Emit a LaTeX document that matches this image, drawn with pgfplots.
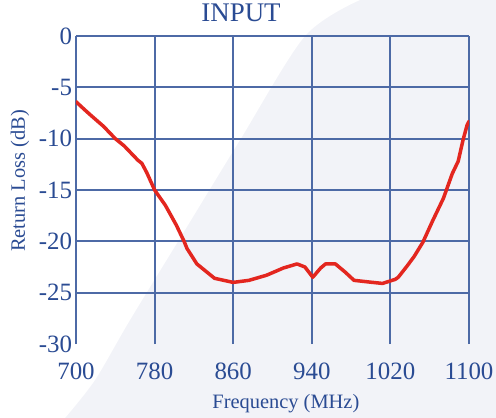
\documentclass[border=0pt]{standalone}
\usepackage{fontspec}
\setmainfont{Liberation Serif}
\usepackage{pgfplots}
\pgfplotsset{compat=1.18}

\definecolor{txtblue}{HTML}{2A4B93}
\definecolor{gridblue}{HTML}{4D6AA6}
\definecolor{curvered}{HTML}{E3261F}
\definecolor{bggrey}{HTML}{F2F3F8}

\begin{document}
\begin{tikzpicture}
% page background with the pale diagonal shade
\fill[bggrey] (-76bp,-74bp) rectangle (420bp,344bp);
\fill[white] (-76bp,-74bp) -- plot[smooth] coordinates {(-11bp,-74bp) (19bp,-36bp) (54bp,24bp) (109bp,114bp) (164bp,204bp) (229bp,308bp) (284bp,344bp)} -- (-76bp,344bp) -- cycle;
\path[use as bounding box] (-76bp,-74bp) rectangle (420bp,344bp);

\begin{axis}[
    at={(0,0)}, anchor=south west,
    scale only axis,
    width=393bp, height=308bp,
    xmin=700, xmax=1100,
    ymin=-30, ymax=0,
    xtick={700,780,860,940,1020,1100},
    xticklabels={700,780,860,940,1020,1100},
    ytick={-25,-20,-15,-10,-5,0},
    yticklabels={-25,-20,-15,-10,-5,0},
    extra y ticks={-30},
    extra y tick labels={-30},
    extra y tick style={grid=none},
    grid=major,
    major grid style={gridblue, line width=1.9bp},
    axis line style={draw=none},
    major tick length=0pt,
    ticklabel style={font=\fontsize{25}{25}\selectfont, text=txtblue},
    xticklabel style={yshift=-15bp},
    yticklabel style={xshift=-0.5bp},
    title={INPUT},
    title style={at={(axis description cs:0.42,1)}, anchor=base, yshift=9bp,
                 inner sep=1bp, font=\fontsize{27}{27}\selectfont, text=txtblue},
    xlabel={Frequency (MHz)},
    xlabel style={at={(axis description cs:0.534,0)}, anchor=base, yshift=-64bp,
                  font=\fontsize{20.5}{20.5}\selectfont, text=txtblue},
    ylabel={Return Loss (dB)},
    ylabel style={at={(axis description cs:0,0.529)}, anchor=base, yshift=51bp,
                  font=\fontsize{20.5}{20.5}\selectfont, text=txtblue},
]
\addplot[curvered, line width=3.5bp, line join=round, line cap=round] coordinates {
(700,-6.4) (709,-7.2) (716,-7.8) (728,-8.8) (740,-10.0) (749,-10.7)
(755,-11.3) (763,-12.1) (767,-12.4) (772,-13.3) (780,-15.0) (791,-16.5)
(802,-18.4) (810,-20.0) (813,-20.7) (823,-22.2) (841,-23.6) (860,-24.0)
(876,-23.8) (894,-23.3) (911,-22.6) (925,-22.2) (933,-22.5) (941,-23.5)
(949,-22.6) (954,-22.2) (964,-22.2) (974,-23.0) (983,-23.8) (1002,-24.0)
(1012,-24.1) (1025,-23.7) (1028,-23.5) (1037,-22.4) (1044,-21.5) (1053,-20.1)
(1063,-18.0) (1074,-15.8) (1077,-15.0) (1083,-13.4) (1089,-12.2) (1094,-10.1)
(1098,-8.7) (1100,-8.3)
};
\end{axis}
\end{tikzpicture}
\end{document}
